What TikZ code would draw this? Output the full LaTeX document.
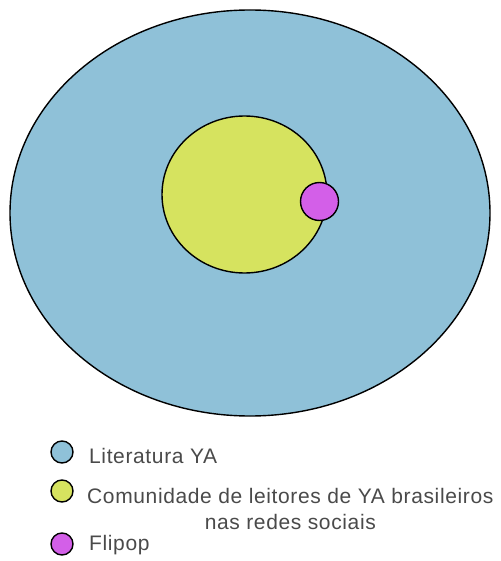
\documentclass[tikz,border=0pt]{standalone}
\usepackage{fontspec}
\setmainfont{Liberation Sans}
\newfontfamily\legfont[LetterSpace=3]{Liberation Sans}
\definecolor{litblue}{HTML}{8FC1D8}
\definecolor{comyellow}{HTML}{D6E35F}
\definecolor{flimag}{HTML}{D35FE8}
\definecolor{txtgray}{HTML}{4A4A4A}
\begin{document}
\begin{tikzpicture}[x=1pt,y=-1pt,
  setshape/.style={draw=black,line width=1.4pt},
  legdot/.style={circle,draw=black,line width=1.4pt,minimum size=22pt,inner sep=0pt},
  legtext/.style={inner sep=0pt,text=txtgray,font=\legfont\fontsize{21}{26}\selectfont}]
\useasboundingbox (0,0) rectangle (500,561);
\fill[white] (0,0) rectangle (500,561);
% sets
\draw[setshape,fill=litblue] (250,213) ellipse [x radius=240, y radius=203];
\draw[setshape,fill=comyellow] (244.5,194.5) ellipse [x radius=82.5, y radius=78.5];
\draw[setshape,fill=flimag] (319.5,201.5) circle [radius=19];
% legend
\node[legdot,fill=litblue] (d1) at (62,452) {};
\node[legdot,fill=comyellow] (d2) at (62,491) {};
\node[legdot,fill=flimag] (d3) at (62,544) {};
\node[legtext,anchor=base west] (t1) at (89,463) {Literatura YA};
\node[legtext,anchor=north west,align=center] (t2) at (87,488) {Comunidade de leitores de YA brasileiros\\nas redes sociais};
\node[legtext,anchor=base west] (t3) at (89,550) {Flipop};
\end{tikzpicture}
\end{document}
